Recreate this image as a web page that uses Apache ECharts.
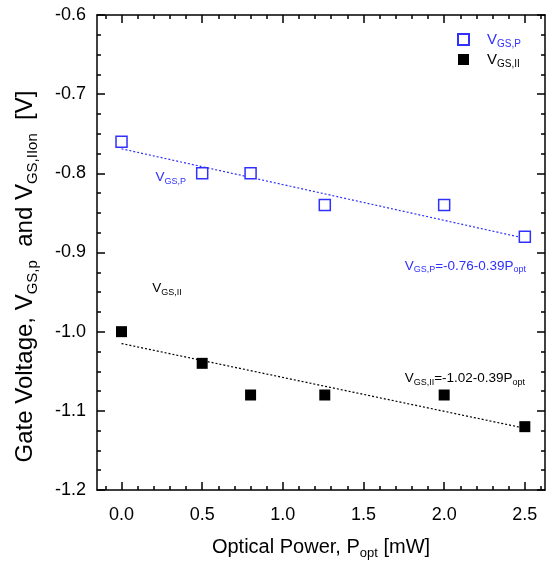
<!DOCTYPE html>
<html>
<head>
<meta charset="utf-8">
<script src="https://cdn.jsdelivr.net/npm/echarts@6/dist/echarts.min.js"></script>
<style>html,body{margin:0;padding:0;background:#fff}#c{width:553px;height:565px}</style>
</head>
<body>
<div id="c"></div>
<script>
// ---- data ----
const xP   = [0.0, 0.5, 0.8, 1.26, 2.0, 2.5];
const vgsP = [-0.76, -0.80, -0.80, -0.84, -0.84, -0.88];
const xII   = [0.0, 0.5, 0.8, 1.26, 2.0, 2.5];
const vgsII = [-1.00, -1.04, -1.08, -1.08, -1.08, -1.12];
const fitPx = [0.0, 2.5];
const fitPy = [-0.769, -0.882];
const fitIIx = [0.0, 2.5];
const fitIIy = [-1.015, -1.122];
const xMajorTicks = [0.0, 0.5, 1.0, 1.5, 2.0, 2.5];
const xMinorTicks = [-0.1, 0.1, 0.2, 0.3, 0.4, 0.6, 0.7, 0.8, 0.9, 1.1, 1.2, 1.3, 1.4, 1.6, 1.7, 1.8, 1.9, 2.1, 2.2, 2.3, 2.4, 2.6];
const annotations = [
  {text: 'V{s|GS,P}', x: 0.21, y: -0.805, color: '#3030ff'},
  {text: 'V{s|GS,II}', x: 0.19, y: -0.945, color: '#000'},
  {text: 'V{s|GS,P}=-0.76-0.39P{s|opt}', x: 1.755, y: -0.917, color: '#3030ff'},
  {text: 'V{s|GS,II}=-1.02-0.39P{s|opt}', x: 1.755, y: -1.059, color: '#000'}
];

const BLUE = '#3030ff';
const FONT = 'Liberation Sans, Arial, sans-serif';
const XMIN = -0.152, XMAX = 2.625;
const sub = (sz, color) => ({fontSize: sz, fontFamily: FONT, color: color, verticalAlign: 'bottom', padding: [Math.round(sz*0.9),0,0,0]});

const chart = echarts.init(document.getElementById('c'), null, {renderer: 'canvas'});

function xAxisDef(pos, ticks, len, labels, line) {
  return {
    type: 'value', position: pos, min: XMIN, max: XMAX,
    axisLine: {show: line, onZero: false, lineStyle: {color: '#000', width: 1.5}},
    axisTick: {show: true, inside: true, length: len, customValues: ticks, lineStyle: {color: '#000', width: 1.5}},
    axisLabel: labels ? {show: true, customValues: ticks, margin: 16, fontSize: 18, fontFamily: FONT, color: '#000',
      formatter: v => v.toFixed(1)} : {show: false},
    splitLine: {show: false},
    name: labels ? 'Optical Power, P{s|opt} [mW]' : '',
    nameLocation: 'middle', nameGap: 45,
    nameTextStyle: {fontSize: 20, fontFamily: FONT, color: '#000', rich: {s: sub(13, '#000')}}
  };
}
function yAxisDef(pos, labels) {
  return {
    type: 'value', position: pos, min: -1.2, max: -0.6, interval: 0.1,
    axisLine: {show: true, onZero: false, lineStyle: {color: '#000', width: 1.5}},
    axisTick: {show: true, inside: true, length: 8, lineStyle: {color: '#000', width: 1.5}},
    minorTick: {show: true, splitNumber: 4, length: 4, lineStyle: {color: '#000', width: 1.5}},
    axisLabel: labels ? {show: true, margin: 11, fontSize: 18, fontFamily: FONT, color: '#000',
      formatter: v => v.toFixed(1)} : {show: false},
    splitLine: {show: false},
    name: labels ? 'Gate Voltage, V{s|GS,p}  and V{s|GS,IIon}  [V]' : '',
    nameLocation: 'middle', nameGap: 57,
    nameTextStyle: {fontSize: 24, fontFamily: FONT, color: '#000', padding: [0, 48, 0, 0],
      rich: {s: sub(15, '#000')}}
  };
}

const option = {
  animation: false,
  backgroundColor: '#fff',
  grid: {left: 97, right: 8, top: 15, bottom: 71, containLabel: false},
  xAxis: [
    xAxisDef('bottom', xMajorTicks, 8, true, true),
    xAxisDef('bottom', xMinorTicks, 4, false, false),
    xAxisDef('top', xMajorTicks, 8, false, true),
    xAxisDef('top', xMinorTicks, 4, false, false)
  ],
  yAxis: [yAxisDef('left', true), yAxisDef('right', false)],
  legend: {
    orient: 'vertical', left: 452, top: 27, itemWidth: 11, itemHeight: 11, itemGap: 3,
    data: ['P', 'II'],
    formatter: n => n === 'P' ? '{a|V}{b|GS,P}' : '{c|V}{d|GS,II}',
    textStyle: {
      fontFamily: FONT, fontSize: 14, padding: [0,0,0,13],
      rich: {
        a: {fontSize: 15, fontFamily: FONT, color: BLUE},
        b: sub(10, BLUE),
        c: {fontSize: 15, fontFamily: FONT, color: '#000'},
        d: sub(10, '#000')
      }
    }
  },
  series: [
    {name: 'fitP', type: 'line', data: fitPx.map((x,i)=>[x, fitPy[i]]), symbol: 'none',
      lineStyle: {color: BLUE, width: 1.2, type: [2,2]}, z: 1},
    {name: 'fitII', type: 'line', data: fitIIx.map((x,i)=>[x, fitIIy[i]]), symbol: 'none',
      lineStyle: {color: '#000', width: 1.2, type: [2,2]}, z: 1},
    {name: 'P', type: 'scatter', data: xP.map((x,i)=>[x, vgsP[i]]), symbol: 'rect', symbolSize: 11,
      itemStyle: {color: '#fff', borderColor: BLUE, borderWidth: 1.5, opacity: 1}, z: 3},
    {name: 'II', type: 'scatter', data: xII.map((x,i)=>[x, vgsII[i]]), symbol: 'rect', symbolSize: 11,
      itemStyle: {color: '#000', opacity: 1}, z: 3},
    {name: 'ann', type: 'scatter', symbolSize: 0, silent: true, z: 4,
      itemStyle: {opacity: 1},
      data: annotations.map(a => ({
        value: [a.x, a.y],
        label: {show: true, position: 'right', distance: 0, formatter: a.text, opacity: 1,
          color: a.color, fontSize: 13.5, fontFamily: FONT,
          rich: {s: sub(9, a.color)}}
      }))}
  ]
};
chart.setOption(option);
</script>
</body>
</html>
